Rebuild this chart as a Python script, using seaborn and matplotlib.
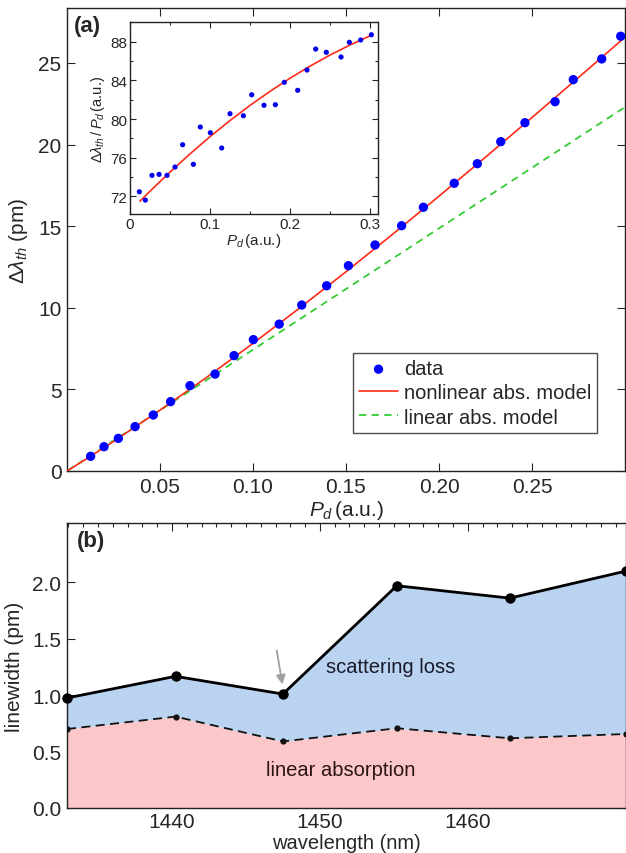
import numpy as np
import pandas as pd
import seaborn as sns
import matplotlib.pyplot as plt
from matplotlib.ticker import MultipleLocator

sns.set_style('ticks')
plt.rcParams['font.family'] = ['Liberation Sans', 'DejaVu Sans']
plt.rcParams['mathtext.fontset'] = 'custom'
plt.rcParams['mathtext.it'] = 'Liberation Sans:italic'
plt.rcParams['mathtext.rm'] = 'Liberation Sans'

# (a) main panel data
pd_data = [0.0127, 0.0199, 0.0276, 0.0366, 0.0464, 0.0557, 0.0661, 0.0796, 0.0898, 0.1002,
           0.1141, 0.1262, 0.1396, 0.1513, 0.1656, 0.1799, 0.1916, 0.2082, 0.2206, 0.2332,
           0.2462, 0.2624, 0.2722, 0.2875, 0.2977]
dl_data = [0.90, 1.49, 2.00, 2.72, 3.43, 4.25, 5.23, 5.94, 7.07, 8.05,
           9.00, 10.17, 11.35, 12.58, 13.85, 15.03, 16.16, 17.63, 18.83, 20.18,
           21.34, 22.63, 23.98, 25.25, 26.64]

# model curves
pd_model = [0.0, 0.0125, 0.025, 0.05, 0.075, 0.1, 0.125, 0.15, 0.175, 0.2, 0.225, 0.25, 0.275, 0.3]
dl_nonlin = [0.0, 0.89, 1.81, 3.73, 5.73, 7.82, 9.98, 12.21, 14.50, 16.84, 19.23, 21.66, 24.11, 26.58]
pd_lin = [0.0, 0.3]
dl_lin = [0.0, 22.3]

# inset: ratio data and fit
pd_inset = [0.0117, 0.0192, 0.0275, 0.0363, 0.0463, 0.0563, 0.0658, 0.0792, 0.0879, 0.1004,
            0.1146, 0.1250, 0.1417, 0.1521, 0.1675, 0.1817, 0.1929, 0.2096, 0.2213, 0.2321,
            0.2454, 0.2638, 0.2742, 0.2883, 0.3017]
ratio_inset = [72.47, 71.61, 74.17, 74.27, 74.17, 75.03, 77.34, 75.31, 79.17, 78.58,
               77.00, 80.55, 80.34, 82.51, 81.42, 81.48, 83.80, 82.97, 85.07, 87.24,
               86.90, 86.42, 87.94, 88.18, 88.72]
pd_fit = [0.0125, 0.025, 0.05, 0.075, 0.1, 0.125, 0.15, 0.175, 0.2, 0.225, 0.25, 0.275, 0.3]
ratio_fit = [71.50, 72.53, 74.51, 76.39, 78.17, 79.84, 81.41, 82.86, 84.22, 85.47, 86.62, 87.66, 88.60]

# (b) linewidth vs wavelength
wavelength = [1432.9, 1440.24, 1447.5, 1455.2, 1462.84, 1470.7]
total_lw = [0.975, 1.167, 1.01, 1.97, 1.86, 2.10]
absorb_lw = [0.70, 0.81, 0.59, 0.707, 0.618, 0.656]

W, H = 626, 854
fig = plt.figure(figsize=(W / 100, H / 100), dpi=100)


def box(l, t, r, b):
    return [l / W, 1 - b / H, (r - l) / W, (b - t) / H]


def style_ticks(ax, size, major=6, minor=3):
    ax.tick_params(which='both', direction='in', top=True, right=True, labelsize=size,
                   width=0.8, pad=4)
    ax.tick_params(which='major', length=major)
    ax.tick_params(which='minor', length=minor)
    for s in ax.spines.values():
        s.set_linewidth(1.0)
        s.set_color('#222222')


# ---- panel (a)
ax = fig.add_axes(box(67, 9, 625, 472))
sns.lineplot(x=pd_lin, y=dl_lin, ax=ax, color='#33cc33', lw=1.3, linestyle=(0, (4, 3)),
             label='linear abs. model', zorder=2)
sns.lineplot(x=pd_model, y=dl_nonlin, ax=ax, color='#ff2a1a', lw=1.2,
             label='nonlinear abs. model', zorder=3)
sns.scatterplot(x=pd_data, y=dl_data, ax=ax, color='#0000ff', s=45, edgecolor='none',
                label='data', zorder=4)
ax.set_xlim(0, 0.3)
ax.set_ylim(0, 28.37)
ax.set_xticks([0.05, 0.10, 0.15, 0.20, 0.25])
ax.set_xticklabels(['0.05', '0.10', '0.15', '0.20', '0.25'])
ax.set_yticks([0, 5, 10, 15, 20, 25])
style_ticks(ax, 15)
ax.set_xlabel(r'$P_d\,$(a.u.)', fontsize=15, labelpad=2)
ax.set_ylabel(r'$\Delta\lambda_{th}$ (pm)', fontsize=15, labelpad=6)
h, l = ax.get_legend_handles_labels()
order = [l.index('data'), l.index('nonlinear abs. model'), l.index('linear abs. model')]
leg = ax.legend([h[i] for i in order], [l[i] for i in order], loc='lower right',
                bbox_to_anchor=(0.95, 0.083), fontsize=14.5, frameon=True, fancybox=False,
                edgecolor='#222222', handlelength=1.9, handletextpad=0.3, borderpad=0.3,
                labelspacing=0.25, borderaxespad=0)
leg.get_frame().set_linewidth(1.0)
ax.text(0.012, 0.985, '(a)', transform=ax.transAxes, fontsize=16, fontweight='bold',
        va='top', ha='left')

# ---- inset
ins = fig.add_axes(box(130, 23, 378, 215))
sns.lineplot(x=pd_fit, y=ratio_fit, ax=ins, color='#ff2a1a', lw=1.2, zorder=2)
sns.scatterplot(x=pd_inset, y=ratio_inset, ax=ins, color='#0000ee', s=14, edgecolor='none',
                zorder=3)
ins.set_xlim(0, 0.31)
ins.set_ylim(70.17, 90.04)
ins.set_xticks([0, 0.1, 0.2, 0.3])
ins.set_xticklabels(['0', '0.1', '0.2', '0.3'])
ins.xaxis.set_minor_locator(MultipleLocator(0.05))
ins.set_yticks([72, 76, 80, 84, 88])
ins.yaxis.set_minor_locator(MultipleLocator(2))
style_ticks(ins, 11, major=4, minor=2.5)
ins.tick_params(pad=2)
ins.set_xlabel(r'$P_d\,$(a.u.)', fontsize=11, labelpad=0)
ins.set_ylabel(r'$\Delta\lambda_{th}\,/\,P_d\,$(a.u.)', fontsize=10.5, labelpad=2)

# ---- panel (b)
bx = fig.add_axes(box(67, 524, 626, 809))
bx.fill_between(wavelength, 0, absorb_lw, color='#fbc7c9', lw=0, zorder=1)
bx.fill_between(wavelength, absorb_lw, total_lw, color='#b9d3f1', lw=0, zorder=1)
sns.lineplot(x=wavelength, y=absorb_lw, ax=bx, color='#111111', lw=1.3, linestyle=(0, (5, 3)),
             marker='o', markersize=4.5, markeredgecolor='none', zorder=3)
sns.lineplot(x=wavelength, y=total_lw, ax=bx, color='#000000', lw=2.0,
             marker='o', markersize=7.5, markeredgecolor='none', zorder=4, clip_on=False)
bx.set_xlim(wavelength[0], wavelength[-1])
bx.set_ylim(0, 2.526)
bx.set_xticks([1440, 1450, 1460])
bx.xaxis.set_minor_locator(MultipleLocator(1))
bx.set_yticks([0.0, 0.5, 1.0, 1.5, 2.0])
bx.set_yticklabels(['0.0', '0.5', '1.0', '1.5', '2.0'])
style_ticks(bx, 15, major=6, minor=3)
bx.tick_params(axis='x', pad=3)
bx.set_xlabel('wavelength (nm)', fontsize=14.5, labelpad=1)
bx.set_ylabel('linewidth (pm)', fontsize=15, labelpad=6)
bx.text(0.018, 0.975, '(b)', transform=bx.transAxes, fontsize=16, fontweight='bold',
        va='top', ha='left')
bx.text(1454.8, 1.25, 'scattering loss', fontsize=14.5, ha='center', va='center',
        color='#1a1a2a')
bx.text(1451.4, 0.34, 'linear absorption', fontsize=14.5, ha='center', va='center',
        color='#2a1414')
bx.annotate('', xy=(wavelength[2], total_lw[2] + 0.06), xytext=(wavelength[2] - 0.45, 1.42),
            arrowprops=dict(arrowstyle='-|>', color='#a0a0a0', lw=1.3, mutation_scale=14))

fig.savefig('out.png', dpi=100)
